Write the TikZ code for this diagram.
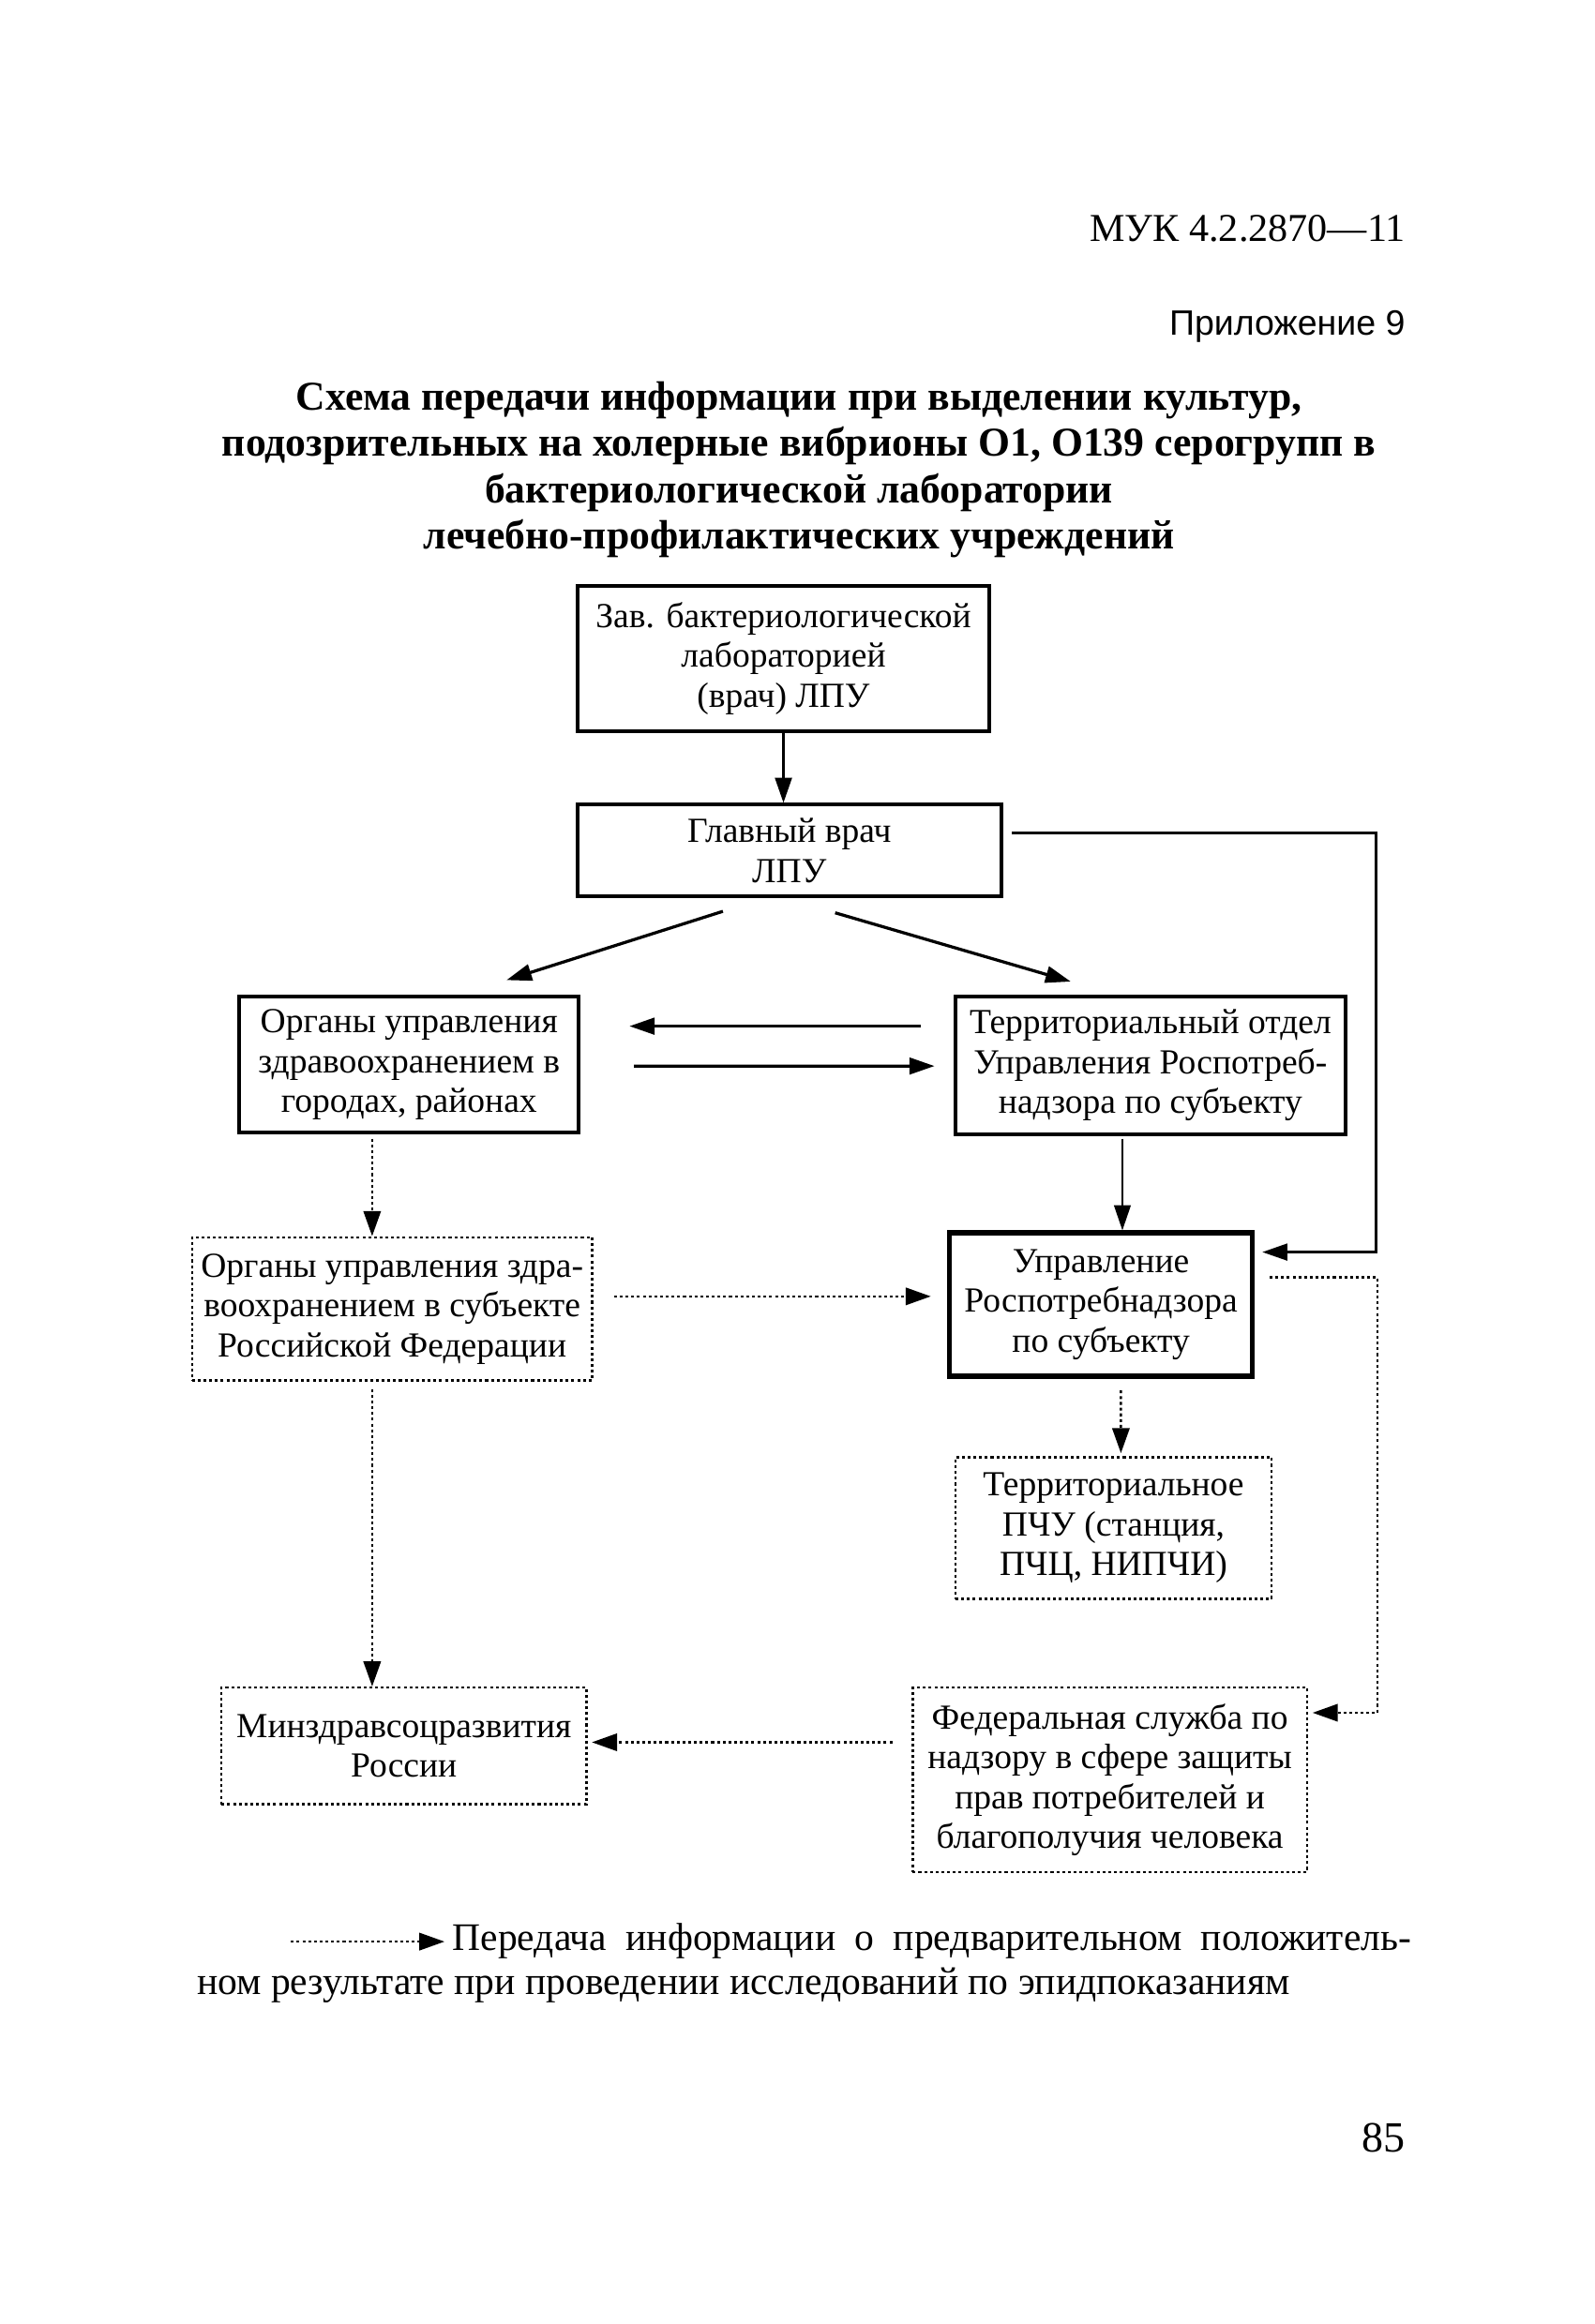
\documentclass[tikz,border=0pt]{standalone}
\usepackage{fontspec}
\setmainfont{Liberation Serif}
\newfontfamily\annexfont{Liberation Sans}
\usetikzlibrary{arrows.meta, calc}

\newcommand{\pxu}{0.411pt}
\newcommand{\boxtext}{\fontsize{9.8}{11.1}\selectfont}

\tikzset{
  plainbox/.style={draw, line width=1pt, align=center, inner sep=0pt, font=\boxtext},
  dotbox/.style={draw, line width=0.65pt, dash pattern=on 0.8pt off 0.8pt, align=center, inner sep=0pt, font=\boxtext},
  link/.style={line width=0.85pt, -{Triangle[length=7pt,width=4.6pt]}},
  dotlink/.style={line width=0.65pt, dash pattern=on 0.8pt off 0.8pt, -{Triangle[length=7pt,width=4.8pt]}},
}

\begin{document}
\begin{tikzpicture}[x=0.411pt, y=-0.411pt]
  \path[fill=white] (0,0) rectangle (1080,1574);
  \useasboundingbox (0,0) rectangle (1080,1574);

  % header and title
  \node[anchor=east, inner sep=0pt, font=\fontsize{11}{13}\selectfont] (muk) at (952,155) {МУК 4.2.2870—11};
  \node[anchor=east, inner sep=0pt, font=\annexfont\fontsize{9.8}{12}\selectfont] (annex) at (952,221) {Приложение 9};
  \node[align=center, font=\fontsize{11.4}{12.9}\selectfont\bfseries] (title) at (541,318)
    {Схема передачи информации при выделении культур,\\
     подозрительных на холерные вибрионы O1, O139 серогрупп в\\
     бактериологической лаборатории\\
     лечебно-профилактических учреждений};

  % boxes
  \node[plainbox, minimum width=279*\pxu, minimum height=98*\pxu] (lab) at (530.5,446)
    {Зав. бактериологической\\лабораторией\\(врач) ЛПУ};
  \node[plainbox, minimum width=287*\pxu, minimum height=62*\pxu] (chief) at (534.5,576)
    {Главный врач\\ЛПУ};
  \node[plainbox, minimum width=230*\pxu, minimum height=92*\pxu] (health) at (277,721)
    {Органы управления\\здравоохранением в\\городах, районах};
  \node[plainbox, minimum width=264*\pxu, minimum height=93*\pxu] (terr) at (779,721.5)
    {Территориальный отдел\\Управления Роспотреб-\\надзора по субъекту};
  \node[plainbox, line width=1.4pt, minimum width=205*\pxu, minimum height=97*\pxu] (rpn) at (745.5,883.5)
    {Управление\\Роспотребнадзора\\по субъекту};
  \node[dotbox, minimum width=271*\pxu, minimum height=97*\pxu] (subj) at (265.5,886.5)
    {Органы управления здра-\\воохранением в субъекте\\Российской Федерации};
  \node[dotbox, minimum width=214*\pxu, minimum height=96*\pxu] (pchu) at (754,1035)
    {Территориальное\\ПЧУ (станция,\\ПЧЦ, НИПЧИ)};
  \node[dotbox, minimum width=247*\pxu, minimum height=79*\pxu] (minz) at (273.5,1182.5)
    {Минздравсоцразвития\\России};
  \node[dotbox, minimum width=267*\pxu, minimum height=125*\pxu] (fed) at (751.5,1205.5)
    {Федеральная служба по\\надзору в сфере защиты\\прав потребителей и\\благополучия человека};

  % solid links
  \draw[link] (lab.south) -- (lab.south |- chief.north);
  \draw[link] ($(chief.south)+(-45,9)$) -- ($(health.north)+(66,-10)$);
  \draw[link] ($(chief.south)+(31,10)$) -- ($(terr.north)+(-54,-9)$);
  \draw[link] ($(terr.west)+(-22,-26.5)$) -- ($(health.east)+(33,-26)$);
  \draw[link] ($(health.east)+(36,1)$) -- ($(terr.west)+(-13,0.5)$);
  \draw[link, line width=0.6pt] ($(terr.south)+(-19,2)$) -- ($(rpn.north)+(14.5,0)$);
  \draw[link] ($(chief.east)+(6,-12)$) -| ($(rpn.east)+(82,-35.5)$) -- ($(rpn.east)+(5,-35.5)$);

  % dotted links
  \draw[dotlink] ($(health.south)+(-25,3)$) -- ($(subj.north)+(-13.5,0)$);
  \draw[dotlink] ($(subj.east)+(14,-8.5)$) -- ($(rpn.west)+(-11,-5.5)$);
  \draw[dotlink] ($(rpn.south)+(13.5,8)$) -- ($(pchu.north)+(5,-2)$);
  \draw[dotlink] ($(rpn.east)+(10,-18.5)$) -| ($(fed.east)+(47,-45.5)$) -- ($(fed.east)+(3,-45.5)$);
  \draw[dotlink] ($(subj.south)+(-13.5,5)$) -- ($(minz.north)+(-21.5,0)$);
  \draw[dotlink] ($(fed.west)+(-13,-25.5)$) -- ($(minz.east)+(3,-2.5)$);

  % legend
  \coordinate (keyA) at (197,1315);
  \coordinate (keyB) at (301,1315);
  \draw[dotlink] (keyA) -- (keyB);
  \node[anchor=base west, inner sep=0pt, font=\fontsize{10.85}{13}\selectfont] (key1) at (306,1321)
    {\makebox[266.8pt][s]{Передача информации о предварительном положитель-}};
  \node[anchor=base west, inner sep=0pt, font=\fontsize{10.85}{13}\selectfont] (key2) at (133,1351)
    {ном результате при проведении исследований по эпидпоказаниям};

  \node[anchor=east, inner sep=0pt, font=\fontsize{12}{14}\selectfont] (page) at (952,1448) {85};
\end{tikzpicture}
\end{document}
